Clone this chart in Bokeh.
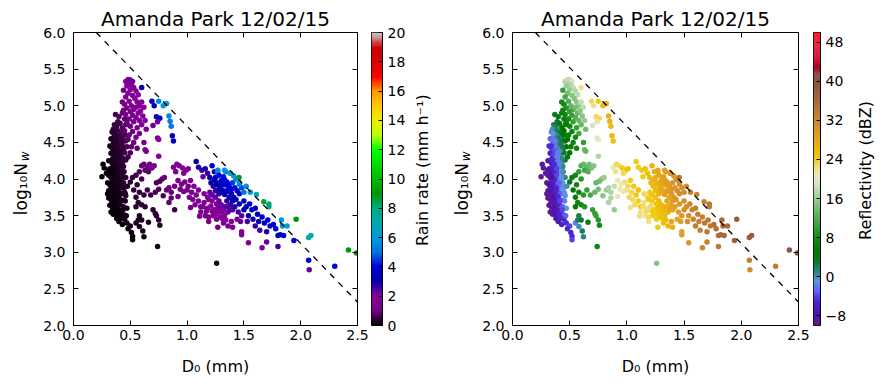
import numpy as np
from bokeh.plotting import figure
from bokeh.layouts import row
from bokeh.models import (LinearColorMapper, FixedTicker, LinearAxis, Range1d,
                          CustomJSTickFormatter, PrintfTickFormatter, ColumnDataSource)
from bokeh.core.properties import value
from bokeh.embed import file_html
from bokeh.resources import INLINE

FONT = "DejaVu Sans"

# ---------------- data ----------------
# small-drop cluster (dark / low rain rate)
core_d0 = [0.37,0.40,0.43,0.45,0.39,0.36,0.38,0.41,0.43,0.46,
           0.35,0.34,0.37,0.39,0.42,0.44,0.36,0.33,0.35,0.38,
           0.40,0.43,0.46,0.37,0.32,0.34,0.36,0.39,0.41,0.44,
           0.47,0.35,0.33,0.36,0.38,0.40,0.42,0.45,0.37,0.48,
           0.31,0.34,0.36,0.38,0.41,0.43,0.46,0.35,0.26,0.27,
           0.32,0.34,0.37,0.39,0.42,0.44,0.36,0.25,0.31,0.33,
           0.35,0.38,0.40,0.43,0.46,0.37,0.30,0.32,0.34,0.36,
           0.39,0.41,0.44,0.35,0.31,0.33,0.35,0.37,0.40,0.42,
           0.45,0.34,0.31,0.33,0.36,0.38,0.40,0.43,0.46,0.35,
           0.32,0.34,0.36,0.38,0.41,0.44,0.47,0.35,0.33,0.35,
           0.37,0.39,0.42,0.45,0.38,0.40,0.43,0.45,0.47,0.50,
           0.48,0.51,0.52,0.52,0.55,0.58,0.61,0.57,0.60,0.58,
           0.74,0.62,0.345,0.385,0.415,0.355,0.395,0.425,0.375,0.405,
           0.325,0.355,0.385,0.415,0.445,0.365,0.395,0.425,0.345,0.325,
           0.375,0.405,0.455,0.385,0.355,0.435,0.395,0.365,
           0.335,0.355,0.375,0.395,0.415,0.435,0.455,0.345,0.365,0.385,
           0.405,0.425,0.445,0.335,0.355,0.375,0.395,0.415,0.435,0.455,
           0.365,0.385,0.405,0.425,0.33,0.31,0.29,0.30,0.465,0.475]
core_nw = [4.88,4.85,4.90,4.82,4.78,4.74,4.72,4.76,4.70,4.74,
           4.68,4.64,4.62,4.66,4.63,4.60,4.58,4.55,4.52,4.56,
           4.50,4.54,4.52,4.48,4.45,4.42,4.46,4.43,4.47,4.40,
           4.44,4.38,4.35,4.33,4.37,4.30,4.34,4.36,4.28,4.30,
           4.25,4.22,4.27,4.20,4.24,4.21,4.26,4.18,4.20,4.15,
           4.14,4.12,4.16,4.10,4.13,4.17,4.08,4.03,4.05,4.02,
           4.06,4.00,4.04,4.07,4.02,3.97,3.95,3.92,3.96,3.90,
           3.94,3.91,3.95,3.87,3.84,3.82,3.86,3.80,3.83,3.88,
           3.82,3.78,3.74,3.72,3.76,3.70,3.75,3.71,3.77,3.68,
           3.64,3.62,3.66,3.60,3.65,3.62,3.60,3.58,3.55,3.52,
           3.56,3.50,3.54,3.51,3.46,3.42,3.38,3.45,3.40,3.36,
           3.32,3.27,3.22,3.17,3.40,3.35,3.29,3.44,3.44,3.50,
           3.08,3.21,4.28,4.31,4.39,4.49,4.58,4.48,4.40,4.18,
           4.08,3.98,3.88,3.98,3.88,3.70,3.64,3.80,3.92,3.78,
           3.52,3.57,3.70,4.05,4.14,4.28,4.24,4.36,
           4.45,4.62,4.52,4.36,4.56,4.44,4.60,4.02,4.20,4.14,
           3.95,4.02,4.10,3.66,3.74,3.84,3.76,3.70,3.58,3.80,
           3.60,3.56,3.50,3.46,3.90,4.12,4.08,3.80,3.50,3.90]
core_rain = [0.6,0.7,0.8,0.8,0.6,0.5,0.5,0.6,0.7,0.8,
             0.4,0.4,0.4,0.5,0.6,0.7,0.4,0.3,0.35,0.4,
             0.45,0.6,0.7,0.35,0.25,0.3,0.3,0.4,0.45,0.5,
             0.7,0.3,0.25,0.3,0.3,0.35,0.4,0.55,0.3,0.6,
             0.2,0.22,0.25,0.3,0.35,0.4,0.5,0.22,0.12,0.12,
             0.18,0.2,0.25,0.28,0.35,0.4,0.22,0.1,0.15,0.18,
             0.2,0.25,0.28,0.35,0.4,0.22,0.12,0.15,0.18,0.2,
             0.25,0.28,0.35,0.18,0.12,0.14,0.16,0.2,0.24,0.28,
             0.32,0.14,0.1,0.12,0.15,0.18,0.22,0.26,0.3,0.13,
             0.1,0.12,0.13,0.15,0.2,0.24,0.28,0.11,0.1,0.1,
             0.12,0.14,0.18,0.22,0.12,0.12,0.15,0.18,0.2,0.22,
             0.18,0.18,0.16,0.15,0.25,0.25,0.25,0.28,0.3,0.3,
             0.25,0.2,0.25,0.32,0.42,0.35,0.45,0.5,0.33,0.3,
             0.15,0.19,0.22,0.3,0.32,0.15,0.17,0.26,0.16,0.12,
             0.12,0.16,0.26,0.26,0.22,0.42,0.32,0.3,
             0.28,0.4,0.38,0.36,0.5,0.5,0.7,0.17,0.26,0.27,
             0.27,0.33,0.38,0.11,0.14,0.19,0.2,0.22,0.22,0.32,
             0.12,0.13,0.15,0.16,0.13,0.15,0.12,0.1,0.25,0.38]
core_dbz = [3,4,6,6,3,2,2,4,5,6,
            0,-2,0,2,3,5,-1,-3,-2,0,
            1,3,5,-1,-5,-4,-3,-1,1,2,
            5,-4,-6,-4,-3,-1,0,3,-4,5,
            -7,-6,-5,-3,-1,0,3,-6,-9,-9,
            -8,-7,-5,-4,-1,1,-6,-10,-8,-7,
            -6,-5,-3,-1,1,-6,-9,-8,-7,-6,
            -4,-3,-1,-7,-9,-8,-7,-6,-4,-2,
            -1,-8,-9,-9,-7,-6,-5,-3,-1,-8,
            -9,-8,-8,-7,-5,-3,-1,-9,-9,-9,
            -8,-7,-5,-4,-8,-7,-6,-6,-5,-4,
            -5,-5,-5,-4,-2,0,2,2,3,2,
            7,1,-5,-2,0,-3,1,2,-3,-2,
            -8,-6,-5,-2,-1,-7,-6,-3,-7,-9,
            -8,-6,-2,-4,-6,1,-2,-4,
            -5,-1,-2,-2,2,2,5,-8,-5,-4,
            -3,-1,0,-9,-8,-6,-5,-4,-4,-1,
            -8,-7,-6,-6,-8,-8,-9,-9,-3,0]

# high-concentration plume (upper left)
upper_d0 = [0.46,0.48,0.50,0.52,0.49,0.51,0.47,0.53,0.50,0.44,
            0.55,0.48,0.52,0.57,0.46,0.54,0.60,0.43,0.45,0.49,
            0.51,0.56,0.58,0.60,0.47,0.53,0.55,0.62,0.44,0.50,
            0.57,0.59,0.52,0.46,0.55,0.61,0.49,0.58,0.63,0.53,
            0.47,0.60,0.70,0.50,0.56,0.64,0.45,0.52,0.58,0.49,
            0.55,0.74,0.75,0.48,0.53,0.62,0.51,0.63,0.64,0.56,
            0.50,0.75,
            0.69,0.71,0.73,0.76,0.75,0.79,0.82,0.84,0.85,0.86,0.87,0.88,0.74]
upper_nw = [5.33,5.36,5.35,5.33,5.30,5.28,5.27,5.25,5.22,5.21,
            5.20,5.17,5.14,5.15,5.12,5.10,5.25,5.05,5.02,5.06,
            5.00,5.05,5.00,5.05,4.97,4.95,4.98,4.98,4.94,4.92,
            4.90,4.93,4.87,4.88,4.84,4.86,4.82,4.80,4.80,4.78,
            4.76,4.74,4.73,4.72,4.70,4.68,4.66,4.65,4.62,4.60,
            4.57,4.56,4.54,4.54,4.50,4.50,4.44,4.40,4.38,4.42,
            4.36,4.31,
            5.06,5.00,4.85,4.83,5.06,5.00,5.03,4.86,4.79,4.72,4.59,4.52,4.78]
upper_rain = [2.0,2.1,2.2,2.2,2.0,2.0,1.8,2.1,1.8,1.2,
              2.0,1.6,1.8,2.1,1.3,1.8,3.0,1.0,1.1,1.4,
              1.5,1.8,1.9,2.0,1.2,1.5,1.6,2.0,1.0,1.3,
              1.6,1.8,1.3,1.0,1.5,1.8,1.1,1.6,1.8,1.3,
              0.9,1.6,2.2,1.0,1.3,1.7,0.8,1.0,1.3,0.9,
              1.1,2.0,2.0,0.8,0.9,1.2,0.8,1.5,1.5,0.9,
              0.7,1.7,
              3.5,3.2,3.3,3.5,5.5,6.0,6.5,5.5,5.2,5.0,3.5,3.3,2.2]
upper_dbz = [17,18,18,19,17,17,16,18,16,10,
             17,14,15,18,11,15,22,8,8,12,
             13,15,16,18,9,12,14,18,7,10,
             13,15,10,7,12,15,8,13,16,10,
             6,13,19,7,10,14,5,7,11,6,
             8,20,20,5,7,10,6,13,13,7,
             5,17,
             23,22,23,23,24,26,27,27,27,26,26,25,20]

# transition band
band_d0 = [0.60,0.62,0.65,0.67,0.69,0.71,0.63,0.66,0.58,0.55,
           0.52,0.60,0.50,0.56,0.78,0.76,0.80,0.73,0.53,0.58,
           0.62,0.55,0.65,0.68,0.72,0.75,0.79,0.82,0.84,0.86,
           0.57,0.60,0.63,0.55,0.89,0.72,0.73,0.75,0.76,0.66,
           0.70]
band_nw = [4.18,4.20,4.16,4.20,4.15,4.18,4.12,4.10,4.10,4.05,
           4.02,4.00,3.96,3.92,4.00,3.97,4.02,3.95,3.85,3.82,
           3.78,3.75,3.85,3.78,3.82,3.86,3.77,3.85,3.88,3.82,
           3.68,3.65,3.62,3.62,3.58,3.53,3.50,3.44,3.37,3.41,
           3.58]
band_rain = [0.9,0.9,1.0,1.0,1.0,1.1,0.8,0.8,0.7,0.6,
             0.5,0.6,0.4,0.5,0.8,0.7,0.9,0.7,0.4,0.45,
             0.5,0.4,0.6,0.6,0.7,0.75,0.7,0.9,1.0,0.9,
             0.4,0.4,0.45,0.35,0.6,0.45,0.45,0.4,0.38,0.3,
             0.45]
band_dbz = [12,13,13,14,14,15,11,12,10,8,
            6,9,4,7,15,14,16,13,5,7,
            9,6,10,11,13,14,15,16,17,17,
            7,8,9,6,16,10,10,9,8,6,
            10]

# large-drop cluster
main_d0 = [0.88,0.91,0.93,0.96,0.99,1.01,0.90,0.97,0.92,0.95,
           0.98,1.01,1.03,0.89,0.94,0.97,1.00,1.04,1.06,1.02,
           1.05,1.08,1.10,1.03,1.07,1.10,1.12,0.92,0.86,0.84,
           1.08,1.10,1.13,1.16,1.18,1.22,1.24,1.27,1.20,1.14,
           1.25,1.28,1.30,1.32,1.35,1.33,1.37,1.40,1.42,1.38,
           1.29,1.26,1.23,1.31,1.35,1.39,1.44,1.46,1.41,1.48,
           1.43,1.34,1.36,1.27,1.33,
           1.15,1.18,1.20,1.22,1.25,1.28,1.30,1.15,1.18,1.21,
           1.24,1.27,1.30,1.33,1.35,1.38,1.12,1.16,1.19,1.23,
           1.26,1.29,1.33,1.36,1.40,1.42,1.11,1.19,1.27,1.36,
           1.40,1.32,1.44,1.48,1.48,1.48,1.54,1.66,1.70,1.80,
           1.45,1.39,
           1.21,1.24,1.27,1.30,1.33,1.36,1.39,1.31,1.28,1.25,
           1.22,1.19,1.26,1.29,1.32,1.35,1.38,1.22,1.25,1.28,
           1.31,1.34,1.17,1.14,1.37,1.40,1.43,1.46,1.50,1.47,
           1.50,1.52,1.55,1.57,1.60,1.62,1.54,1.58,1.63,1.66,
           1.68,1.71,1.73,1.76,1.78,1.80,1.82,1.85,1.94,1.64,
           1.60,1.70,1.53]
main_nw = [4.16,4.20,4.18,4.15,4.12,4.14,4.10,4.08,3.98,3.93,
           3.96,3.90,3.98,3.90,3.86,3.83,3.85,3.82,3.90,3.75,
           3.72,3.78,3.85,3.61,3.65,3.70,3.62,3.76,3.74,3.68,
           4.24,4.16,4.12,4.14,4.08,4.18,4.10,4.10,4.02,4.03,
           4.02,4.05,3.98,4.03,3.96,3.92,3.90,3.95,3.88,4.08,
           3.90,3.95,3.90,3.85,3.83,3.80,3.84,3.80,3.75,3.88,
           4.00,4.10,3.86,3.85,3.79,
           3.80,3.75,3.82,3.70,3.75,3.70,3.65,3.68,3.60,3.63,
           3.58,3.60,3.55,3.62,3.70,3.65,3.55,3.50,3.48,3.50,
           3.45,3.48,3.50,3.55,3.58,3.62,3.49,3.42,3.34,3.36,
           3.34,3.40,3.45,3.50,3.28,3.24,3.13,3.06,3.14,3.08,
           3.55,3.42,
           3.95,3.99,3.92,3.94,3.99,3.93,3.86,3.82,3.80,3.84,
           3.78,3.72,3.66,3.62,3.57,3.62,3.58,3.56,3.52,3.55,
           3.46,3.44,3.56,3.62,3.75,3.70,3.72,3.66,3.58,3.42,
           3.70,3.62,3.66,3.58,3.60,3.52,3.50,3.45,3.42,3.48,
           3.40,3.44,3.36,3.38,3.32,3.23,3.24,3.23,3.16,3.30,
           3.36,3.28,3.42]
main_rain = [1.5,1.7,1.7,1.8,1.8,1.9,1.4,1.6,1.3,1.3,
             1.4,1.4,1.6,1.1,1.2,1.2,1.3,1.4,1.6,1.3,
             1.3,1.5,1.7,1.1,1.2,1.4,1.3,1.0,0.9,0.8,
             3.0,2.8,2.6,2.8,2.6,4.0,3.8,5.0,3.0,2.4,
             3.5,4.0,3.8,4.2,4.0,3.6,3.8,4.5,4.2,5.5,
             3.3,3.2,2.8,3.2,3.3,3.5,3.9,3.8,3.2,4.6,
             5.0,5.0,3.6,3.0,3.0,
             2.0,2.0,2.3,2.0,2.3,2.3,2.2,1.7,1.6,1.8,
             1.8,2.0,2.0,2.3,2.7,2.6,1.4,1.4,1.4,1.6,
             1.5,1.7,1.9,2.2,2.5,2.8,1.3,1.3,1.3,1.5,
             1.6,1.5,2.0,2.4,1.8,1.6,1.6,1.8,2.2,2.5,
             2.5,1.8,
             3.0,3.3,3.2,3.5,3.9,3.8,3.7,3.1,2.8,2.7,
             2.3,2.0,2.2,2.2,2.1,2.4,2.4,1.7,1.7,1.9,
             1.7,1.8,1.5,1.5,2.9,3.0,3.3,3.2,3.1,2.2,
             3.6,3.3,3.8,3.5,4.0,3.6,3.0,2.9,3.2,3.8,
             3.4,4.0,3.6,4.0,3.6,3.2,3.5,3.7,4.0,2.6,
             2.6,2.8,2.5]
main_dbz = [20,23,23,24,24,25,22,23,21,21,
            22,23,24,18,21,21,22,23,24,23,
            23,24,25,22,23,24,24,20,17,17,
            24,24,24,25,25,27,27,28,26,24,
            27,28,28,29,29,29,30,30,30,30,
            28,27,26,28,29,30,31,31,30,31,
            31,29,29,27,29,
            23,23,24,24,25,26,26,22,22,23,
            24,25,26,27,28,28,22,22,23,24,
            24,25,26,27,29,29,22,22,24,26,
            27,25,28,30,29,29,30,32,33,34,
            29,28,
            26,27,27,28,29,29,30,28,27,26,
            25,24,25,26,26,27,28,24,24,25,
            25,26,23,23,28,29,30,30,31,29,
            31,31,32,32,33,33,31,32,33,33,
            34,34,34,35,35,35,36,36,37,33,
            33,34,31]

# points along the upper edge and the large-drop tail
edge_d0 = [1.50,1.556,1.61,1.46,1.52,1.675,1.72,1.72,1.83,1.84,
           1.88,1.96,2.07,2.09,2.07,2.075,2.30,2.42,2.49,1.457,
           1.38,1.27,1.33,1.41,1.45,1.26]
edge_nw = [3.82,3.82,3.79,3.93,3.90,3.69,3.62,3.66,3.44,3.36,
           3.36,3.45,3.20,3.23,2.89,2.76,2.81,3.03,2.99,4.02,
           4.08,4.12,4.12,4.04,3.98,2.85]
edge_rain = [5.2,6.0,7.0,5.5,6.0,8.5,8.0,8.2,6.0,6.5,
             6.5,9.0,7.0,7.0,3.8,2.3,3.8,9.0,9.0,9.0,
             6.5,5.5,6.0,6.0,6.5,0.3]
edge_dbz = [31,32,32,31,31,33,34,34,36,36,
            36,38,38,38,33,31,34,40,41,35,
            30,28,29,30,31,15]

# dashed reference line (end points)
line_d0 = [0.2, 2.5]
line_nw = [6.0, 2.32]

title_text = "Amanda Park 12/02/15"
ylabel_main = "log₁₀N"
ylabel_sub = "w"
xlabel_text = "D₀ (mm)"
rain_label = "Rain rate (mm h⁻¹)"
dbz_label = "Reflectivity (dBZ)"
x_ticks = [0.0, 0.5, 1.0, 1.5, 2.0, 2.5]
y_ticks = [2.0, 2.5, 3.0, 3.5, 4.0, 4.5, 5.0, 5.5, 6.0]
rain_ticks = [0, 2, 4, 6, 8, 10, 12, 14, 16, 18, 20]
dbz_ticks = [-8, 0, 8, 16, 24, 32, 40, 48]
rain_range = (0, 20)
dbz_range = (-10, 50)

# ---------------- colour maps ----------------
nipy_pos = [i * 0.05 for i in range(21)]
nipy_r = [0, .4667, .5333, 0, 0, 0, 0, 0, 0, 0, 0, 0, 0, .7333, .9333, 1, 1, 1, .8667, .8, .8]
nipy_g = [0, 0, 0, 0, 0, .4667, .6, .6667, .6667, .6, .7333, .8667, 1, 1, .9333, .8, .6, 0, 0, 0, .8]
nipy_b = [0, .5333, .6, .6667, .8667, .8667, .8667, .6667, .5333, 0, 0, 0, 0, 0, 0, 0, 0, 0, 0, 0, .8]

refl_pos = [-10, -8, -5, -3, -1, 1, 3, 5, 8, 11, 14, 17, 19, 21, 23, 24.5, 27, 30, 33, 37, 40, 41.5, 43, 45, 48, 50]
refl_rgb = [(105, 25, 140), (80, 20, 165), (75, 40, 215), (100, 100, 250), (90, 150, 220),
            (45, 130, 125), (10, 120, 40), (0, 120, 0), (20, 140, 20), (70, 165, 70),
            (115, 190, 115), (175, 212, 165), (215, 228, 200), (238, 232, 185), (242, 215, 90),
            (240, 200, 0), (235, 175, 20), (220, 150, 40), (195, 128, 50), (160, 100, 60),
            (135, 85, 65), (145, 80, 85), (170, 0, 30), (210, 30, 65), (240, 40, 65), (250, 30, 40)]


def make_palette(pos, r, g, b, n=256):
    pos = np.asarray(pos, float)
    out = []
    for t in np.linspace(pos[0], pos[-1], n):
        rr = np.interp(t, pos, r)
        gg = np.interp(t, pos, g)
        bb = np.interp(t, pos, b)
        out.append("#%02x%02x%02x" % (int(round(rr)), int(round(gg)), int(round(bb))))
    return out


rain_pal = make_palette(nipy_pos, [v * 255 for v in nipy_r], [v * 255 for v in nipy_g],
                        [v * 255 for v in nipy_b])
dbz_pal = make_palette(refl_pos, [c[0] for c in refl_rgb], [c[1] for c in refl_rgb],
                       [c[2] for c in refl_rgb])

rain_mapper = LinearColorMapper(palette=rain_pal, low=rain_range[0], high=rain_range[1])
dbz_mapper = LinearColorMapper(palette=dbz_pal, low=dbz_range[0], high=dbz_range[1])

src = ColumnDataSource(dict(
    d0=core_d0 + upper_d0 + band_d0 + main_d0 + edge_d0,
    nw=core_nw + upper_nw + band_nw + main_nw + edge_nw,
    rain=core_rain + upper_rain + band_rain + main_rain + edge_rain,
    dbz=core_dbz + upper_dbz + band_dbz + main_dbz + edge_dbz,
))

# ---------------- layout geometry (pixels) ----------------
TOP, BOTTOM = 32, 55
FRAME_W, FRAME_H = 286, 293
ROW_H = TOP + FRAME_H + BOTTOM
empty_fmt = CustomJSTickFormatter(code="return ''")


def style_axis(ax, standoff=5, ticks_in=5):
    ax.major_tick_in = ticks_in
    ax.major_tick_out = 0
    ax.minor_tick_in = 0
    ax.minor_tick_out = 0
    ax.axis_line_color = "black"
    ax.major_tick_line_color = "black"
    ax.major_label_text_font = FONT
    ax.major_label_text_font_size = "14px"
    ax.major_label_text_color = "black"
    ax.major_label_standoff = standoff
    ax.axis_label_text_font = FONT
    ax.axis_label_text_font_size = "16px"
    ax.axis_label_text_font_style = "normal"
    ax.axis_label_text_color = "black"


def text_fig(w, h):
    f = figure(width=w, height=h, x_range=Range1d(0, w), y_range=Range1d(0, h),
               output_backend="svg", toolbar_location=None, title=None,
               x_axis_location=None, y_axis_location=None, min_border=0)
    f.grid.visible = False
    f.outline_line_color = None
    f.border_fill_color = "white"
    f.background_fill_color = "white"
    return f


def add_text(f, x, y, text, size, angle=0.0, align="left", style="normal"):
    f.text(x=[x], y=[y], text=[text], angle=angle, text_font=value(FONT),
           text_font_size=value(size), text_align=value(align),
           text_baseline=value("middle"), text_color="black",
           text_font_style=value(style))


def make_main(color_field, mapper, border_left, border_right):
    p = figure(width=border_left + FRAME_W + border_right, height=ROW_H,
               x_range=Range1d(0, 2.5), y_range=Range1d(2, 6),
               output_backend="svg", toolbar_location=None, title=None,
               min_border_left=border_left, min_border_right=border_right,
               min_border_top=TOP, min_border_bottom=BOTTOM)
    p.xgrid.visible = False
    p.ygrid.visible = False
    p.outline_line_color = "black"
    p.outline_line_width = 1
    p.background_fill_color = "white"
    p.border_fill_color = "white"
    p.xaxis.ticker = FixedTicker(ticks=x_ticks)
    p.xaxis.formatter = PrintfTickFormatter(format="%.1f")
    p.yaxis.ticker = FixedTicker(ticks=y_ticks)
    p.yaxis.formatter = PrintfTickFormatter(format="%.1f")
    p.xaxis.axis_label = xlabel_text
    for ax in p.xaxis:
        style_axis(ax, standoff=4)
        ax.axis_label_standoff = 14
    for ax in p.yaxis:
        style_axis(ax, standoff=8)
    # top axis: ticks only, its label carries the panel title
    top = LinearAxis(ticker=FixedTicker(ticks=x_ticks), formatter=empty_fmt,
                     axis_label=title_text)
    style_axis(top, standoff=0)
    top.major_label_text_font_size = "1px"
    top.axis_label_text_font_size = "20px"
    top.axis_label_standoff = 2
    p.add_layout(top, "above")
    right = LinearAxis(ticker=FixedTicker(ticks=y_ticks), formatter=empty_fmt)
    style_axis(right, standoff=0)
    right.major_label_text_font_size = "1px"
    p.add_layout(right, "right")

    p.scatter("d0", "nw", source=src, size=5.5, line_color=None,
              fill_color={"field": color_field, "transform": mapper})
    p.line(line_d0, line_nw, line_color="black", line_width=1.3, line_dash="6 6")
    return p


def make_cbar(mapper, rng, ticks, overrides, bar_w, border_right):
    c = figure(width=1 + bar_w + border_right, height=ROW_H,
               x_range=Range1d(0, 1), y_range=Range1d(rng[0], rng[1]),
               output_backend="svg", toolbar_location=None, title=None,
               x_axis_location=None, y_axis_location="right",
               min_border_left=1, min_border_right=border_right,
               min_border_top=TOP, min_border_bottom=BOTTOM)
    c.xgrid.visible = False
    c.ygrid.visible = False
    c.outline_line_color = "black"
    c.outline_line_width = 1
    c.border_fill_color = "white"
    c.image(image=[np.linspace(rng[0], rng[1], 256).reshape(256, 1)], x=0, y=rng[0],
            dw=1, dh=rng[1] - rng[0], color_mapper=mapper)
    for ax in c.yaxis:
        style_axis(ax, standoff=5, ticks_in=4)
        ax.ticker = FixedTicker(ticks=ticks)
        ax.major_label_overrides = overrides
    return c


def ry(page_y):
    """page y (from top) -> data y inside a strip of the row"""
    return ROW_H - page_y


# left y-label strip (page x 0..40)
ylab = text_fig(40, ROW_H)
add_text(ylab, 20, ry(237), ylabel_main, "17px", angle=np.pi / 2)
add_text(ylab, 24, ry(167), ylabel_sub, "12px", angle=np.pi / 2, style="italic")

p1 = make_main("rain", rain_mapper, 31, 13)          # page x 40..370
c1 = make_cbar(rain_mapper, rain_range, rain_ticks, {}, 11, 27)   # 370..409

# strip between the panels (page x 409..475): colour-bar label + second y-label
mid = text_fig(66, ROW_H)
add_text(mid, 12.5, ry(178.5), rain_label, "16px", angle=np.pi / 2, align="center")
add_text(mid, 52, ry(237), ylabel_main, "17px", angle=np.pi / 2)
add_text(mid, 56, ry(167), ylabel_sub, "12px", angle=np.pi / 2, style="italic")

p2 = make_main("dbz", dbz_mapper, 37, 14)            # page x 475..812
c2 = make_cbar(dbz_mapper, dbz_range, dbz_ticks, {-8: "−8"}, 9, 27)   # 812..849

rlab = text_fig(29, ROW_H)                           # page x 849..878
add_text(rlab, 15.5, ry(179), dbz_label, "16px", angle=np.pi / 2, align="center")

layout = row(ylab, p1, c1, mid, p2, c2, rlab, spacing=0)
open("out.html", "w").write(file_html(layout, INLINE))
